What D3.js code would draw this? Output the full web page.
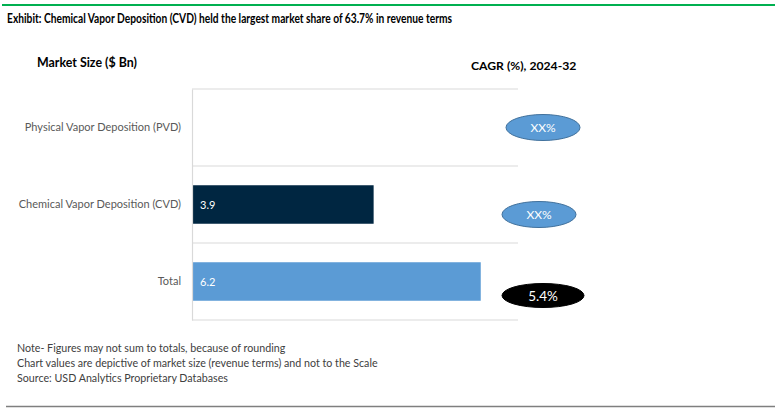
<!DOCTYPE html>
<html><head><meta charset="utf-8">
<script src="https://cdn.jsdelivr.net/npm/d3@7"></script>
<style>body{margin:0;background:#fff}svg{display:block}</style>
</head><body>
<svg id="c" width="782" height="414"></svg>
<script>
const titleText = "Exhibit: Chemical Vapor Deposition (CVD) held the largest market share of 63.7% in revenue terms";
const categories = ["Physical Vapor Deposition (PVD)", "Chemical Vapor Deposition (CVD)", "Total"];
const marketSize = [null, 3.9, 6.2];
const cagrLabels = ["XX%", "XX%", "5.4%"];
const notes = [
  "Note- Figures may not sum to totals, because of rounding",
  "Chart values are depictive of market size (revenue terms) and not to the Scale",
  "Source: USD Analytics Proprietary Databases"
];
const barColors = ["#5B9BD5", "#002641", "#5B9BD5"];
const bubbleColors = ["#5B9BD5", "#5B9BD5", "#000000"];

const svg = d3.select("#c");
const font = "Lato, 'Open Sans', sans-serif";

svg.append("line").attr("x1", 2).attr("x2", 775).attr("y1", 5).attr("y2", 5)
  .attr("stroke", "#00B050").attr("stroke-width", 2.2);
svg.append("text").attr("x", 7).attr("y", 23).attr("font-family", font)
  .attr("font-weight", "bold").attr("font-size", 12.6).attr("fill", "#000")
  .attr("textLength", 445).attr("lengthAdjust", "spacingAndGlyphs").text(titleText);

svg.append("text").attr("x", 37).attr("y", 67).attr("font-family", font)
  .attr("font-weight", "bold").attr("font-size", 12.4).attr("fill", "#000").text("Market Size ($ Bn)");
svg.append("text").attr("x", 471).attr("y", 70).attr("font-family", font)
  .attr("font-weight", "bold").attr("font-size", 12.2).attr("fill", "#000").text("CAGR (%), 2024-32");

const x = d3.scaleLinear().domain([0, 7]).range([192, 518]);
const y = d3.scaleBand().domain(categories).range([89, 320]).paddingInner(0.5).paddingOuter(0.25);
const yb = d3.scaleBand().domain(categories).range([89, 320]);

// gridlines at band boundaries
const bounds = categories.map(c => yb(c)).concat([yb.range()[1]]);
svg.append("g").selectAll("line").data(bounds).join("line")
  .attr("x1", 192).attr("x2", 518).attr("y1", d => d).attr("y2", d => d)
  .attr("stroke", "#D9D9D9").attr("stroke-width", 1.2);

// bars
svg.append("g").selectAll("rect").data(categories.map((c, i) => ({c, v: marketSize[i], i})).filter(d => d.v != null))
  .join("rect")
  .attr("x", x(0)).attr("y", d => y(d.c)).attr("width", d => x(d.v) - x(0)).attr("height", y.bandwidth())
  .attr("fill", d => barColors[d.i]);

svg.append("g").selectAll("text").data(categories.map((c, i) => ({c, v: marketSize[i]})).filter(d => d.v != null))
  .join("text")
  .attr("x", x(0) + 8).attr("y", d => y(d.c) + y.bandwidth() / 2 + 4)
  .attr("font-family", font).attr("font-size", 11).attr("fill", "#fff")
  .text(d => d.v.toFixed(1));

// axis line
const yAxis = d3.axisLeft(yb).tickSize(0).tickPadding(11);
const ga = svg.append("g").attr("transform", "translate(192,0)").call(yAxis);
ga.select(".domain").attr("stroke", "#D9D9D9").attr("stroke-width", 1.2);
ga.selectAll("text").attr("font-family", font).attr("font-size", 11).attr("fill", "#595959");

// CAGR ellipses
const ex = [543, 539, 543];
const ey = [0, 10, 14];
const bub = svg.append("g").selectAll("g").data(categories).join("g")
  .attr("transform", (d, i) => `translate(${ex[i]},${yb(d) + yb.bandwidth() / 2 + ey[i]})`);
bub.append("ellipse").attr("rx", (d, i) => i === 2 ? 41 : 37).attr("ry", (d, i) => i === 2 ? 12 : 13)
  .attr("fill", (d, i) => bubbleColors[i]).attr("stroke", (d, i) => i === 2 ? "#000" : "#41719C").attr("stroke-width", 1);
bub.append("text").attr("text-anchor", "middle").attr("y", (d, i) => i === 2 ? 5 : 4)
  .attr("font-family", font).attr("font-size", (d, i) => i === 2 ? 13.5 : 12).attr("fill", "#fff")
  .text((d, i) => cagrLabels[i]);

svg.append("g").selectAll("text").data(notes).join("text")
  .attr("x", 17).attr("y", (d, i) => 352 + i * 15)
  .attr("font-family", font).attr("font-size", 10.7).attr("fill", "#404040").text(d => d);

svg.append("line").attr("x1", 6).attr("x2", 775).attr("y1", 406.5).attr("y2", 406.5)
  .attr("stroke", "#7F7F7F").attr("stroke-width", 1.5);
</script>
</body></html>
